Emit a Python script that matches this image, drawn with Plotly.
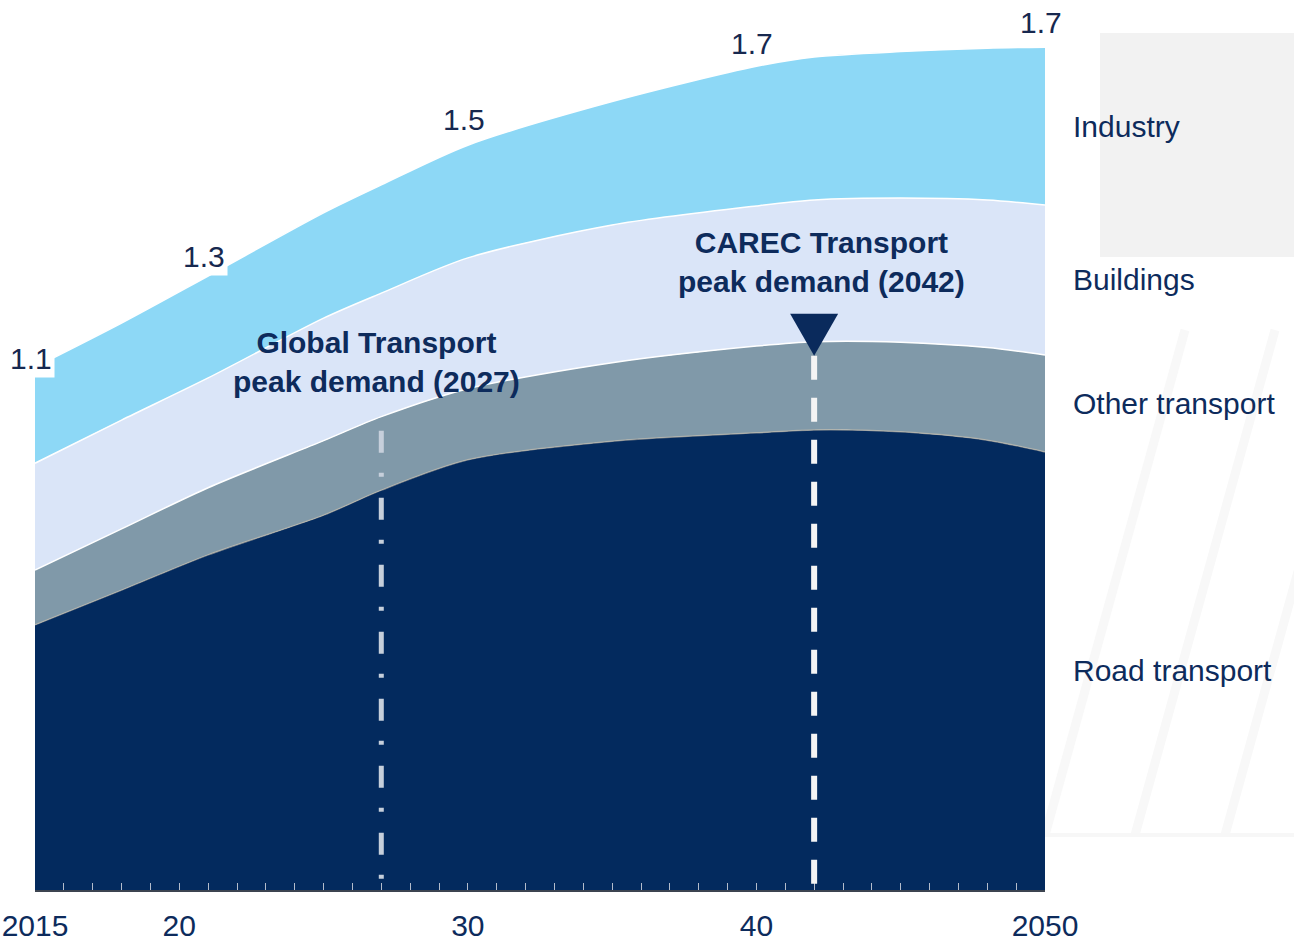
import plotly.graph_objects as go

# Final energy demand by sector (stacked), 2015-2050
years = [2015, 2018, 2021, 2025, 2027, 2030, 2035, 2040, 2042, 2045, 2048, 2050]
road_transport = [0.541, 0.612, 0.684, 0.765, 0.816, 0.878, 0.916, 0.933, 0.939, 0.935, 0.918, 0.894]
other_transport = [0.112, 0.125, 0.137, 0.152, 0.150, 0.145, 0.160, 0.177, 0.180, 0.183, 0.189, 0.198]
buildings = [0.218, 0.222, 0.224, 0.250, 0.252, 0.267, 0.281, 0.286, 0.289, 0.294, 0.301, 0.306]
industry = [0.196, 0.198, 0.208, 0.215, 0.221, 0.230, 0.252, 0.285, 0.292, 0.299, 0.310, 0.322]

total_label_years = [2015, 2021, 2030, 2040, 2050]
tick_years = [2015, 2020, 2030, 2040, 2050]
tick_text = ["2015", "20", "30", "40", "2050"]
global_peak_year = 2027
carec_peak_year = 2042

# ---- layout geometry ----
W, H = 1294, 946
M_L, M_R, M_T, M_B = 35, 249, 8, 56
Y_MAX = 1.8
PLOT_W = W - M_L - M_R
PLOT_H = H - M_T - M_B
PX_PER_UNIT = PLOT_H / Y_MAX

NAVY = "#0d2b5c"
FONT = "Liberation Sans, Arial, sans-serif"

series = [
    ("Road transport", road_transport, "#032a5e", "rgba(200,190,170,0.6)"),
    ("Other transport", other_transport, "#8099a9", "white"),
    ("Buildings", buildings, "#dae5f8", "white"),
    ("Industry", industry, "#8dd8f6", "white"),
]

fig = go.Figure()
for name, vals, fill, edge in series:
    fig.add_trace(go.Scatter(
        x=years, y=vals, name=name, stackgroup="energy", mode="lines",
        line=dict(color=edge, width=1.5, shape="spline", smoothing=0.8),
        fillcolor=fill, hoverinfo="skip", showlegend=False,
    ))

# cumulative boundaries
cum = []
running = [0.0] * len(years)
for _, vals, _, _ in series:
    running = [a + b for a, b in zip(running, vals)]
    cum.append(list(running))
totals = cum[-1]


def value_at(row, yr):
    return row[years.index(yr)]


annotations = []

# totals above the stack
label_offsets = [9, 20, 26, 23, 25]
for yr, dy in zip(total_label_years, label_offsets):
    v = value_at(totals, yr)
    annotations.append(dict(
        x=yr, y=v, xref="x", yref="y", text=f"{v:.1f}", showarrow=False,
        xanchor="center", yanchor="middle", xshift=-4, yshift=dy,
        bgcolor="white", borderpad=2,
        font=dict(family=FONT, size=30, color="#17284f"),
    ))

# sector names at right, centred on each band in the final year
prev = [0.0] * len(years)
for (name, vals, _, _), top in zip(series, cum):
    mid = value_at(prev, 2050) + value_at(vals, 2050) / 2
    annotations.append(dict(
        x=2050, y=mid, xref="x", yref="y", text=name, showarrow=False,
        xanchor="left", yanchor="middle", xshift=26,
        font=dict(family=FONT, size=30, color=NAVY),
    ))
    prev = top

# peak-demand callouts
other_top = cum[1]
gap = 14 / PX_PER_UNIT
annotations.append(dict(
    x=2026.82, y=1.078, xref="x", yref="y",
    text="<b>Global Transport<br>peak demand (2027)</b>", showarrow=False,
    xanchor="center", yanchor="middle",
    font=dict(family=FONT, size=30, color=NAVY),
))
annotations.append(dict(
    x=2042.27, y=1.282, xref="x", yref="y",
    text="<b>CAREC Transport<br>peak demand (2042)</b>", showarrow=False,
    xanchor="center", yanchor="middle",
    font=dict(family=FONT, size=30, color=NAVY),
))

shapes = []


def paper_x(px):
    return (px - M_L) / PLOT_W


def paper_y(py):
    return (H - M_B - py) / PLOT_H


# faint background panels on the right
shapes.append(dict(type="rect", xref="paper", yref="paper", layer="below",
                   x0=paper_x(1100), x1=paper_x(1300), y0=paper_y(257), y1=paper_y(33),
                   fillcolor="#f2f2f2", line=dict(width=0)))
for bx in [1045, 1135, 1225, 1315]:
    shapes.append(dict(type="line", xref="paper", yref="paper", layer="below",
                       x0=paper_x(bx), y0=paper_y(835), x1=paper_x(bx + 140), y1=paper_y(330),
                       line=dict(color="#f8f8f8", width=9)))
shapes.append(dict(type="line", xref="paper", yref="paper", layer="below",
                   x0=paper_x(1045), x1=paper_x(1294), y0=paper_y(835), y1=paper_y(835),
                   line=dict(color="#f7f7f7", width=4)))

# global peak marker line (dash-dot)
g_top = value_at(other_top, global_peak_year) - gap
shapes.append(dict(type="line", xref="x", yref="y", layer="above",
                   x0=global_peak_year, x1=global_peak_year, y0=g_top, y1=0,
                   line=dict(color="#c6cfdb", width=5, dash="22px,20px,4px,21px")))

# CAREC peak marker line (dashed) with triangle
c_top = value_at(other_top, carec_peak_year) - gap
shapes.append(dict(type="line", xref="x", yref="y", layer="above",
                   x0=carec_peak_year, x1=carec_peak_year, y0=c_top, y1=0,
                   line=dict(color="#f4f4f4", width=6, dash="24px,18px")))
shapes.append(dict(type="path", xref="x", yref="y", layer="above",
                   xsizemode="pixel", ysizemode="pixel",
                   xanchor=carec_peak_year, yanchor=c_top,
                   path="M-24,42 L24,42 L0,0 Z",
                   fillcolor="#0a2a5c", line=dict(width=0)))

fig.update_layout(
    width=W, height=H,
    margin=dict(l=M_L, r=M_R, t=M_T, b=M_B, autoexpand=False),
    paper_bgcolor="white", plot_bgcolor="white",
    showlegend=False,
    annotations=annotations,
    shapes=shapes,
    xaxis=dict(
        range=[2015, 2050], tickvals=tick_years, ticktext=tick_text,
        ticks="inside", ticklen=7, tickwidth=1, tickcolor="#b4bccb",
        minor=dict(dtick=1, tick0=2015, ticks="inside", ticklen=7, tickwidth=1,
                   tickcolor="#b4bccb", showgrid=False),
        showgrid=False, zeroline=False, automargin=False,
        showline=True, linecolor="#3c4450", linewidth=2,
        tickfont=dict(family=FONT, size=30, color=NAVY),
        ticklabelstandoff=8,
        layer="above traces",
    ),
    yaxis=dict(range=[0, Y_MAX], visible=False, showgrid=False, zeroline=False,
               automargin=False),
)

fig.write_html("out.html")
